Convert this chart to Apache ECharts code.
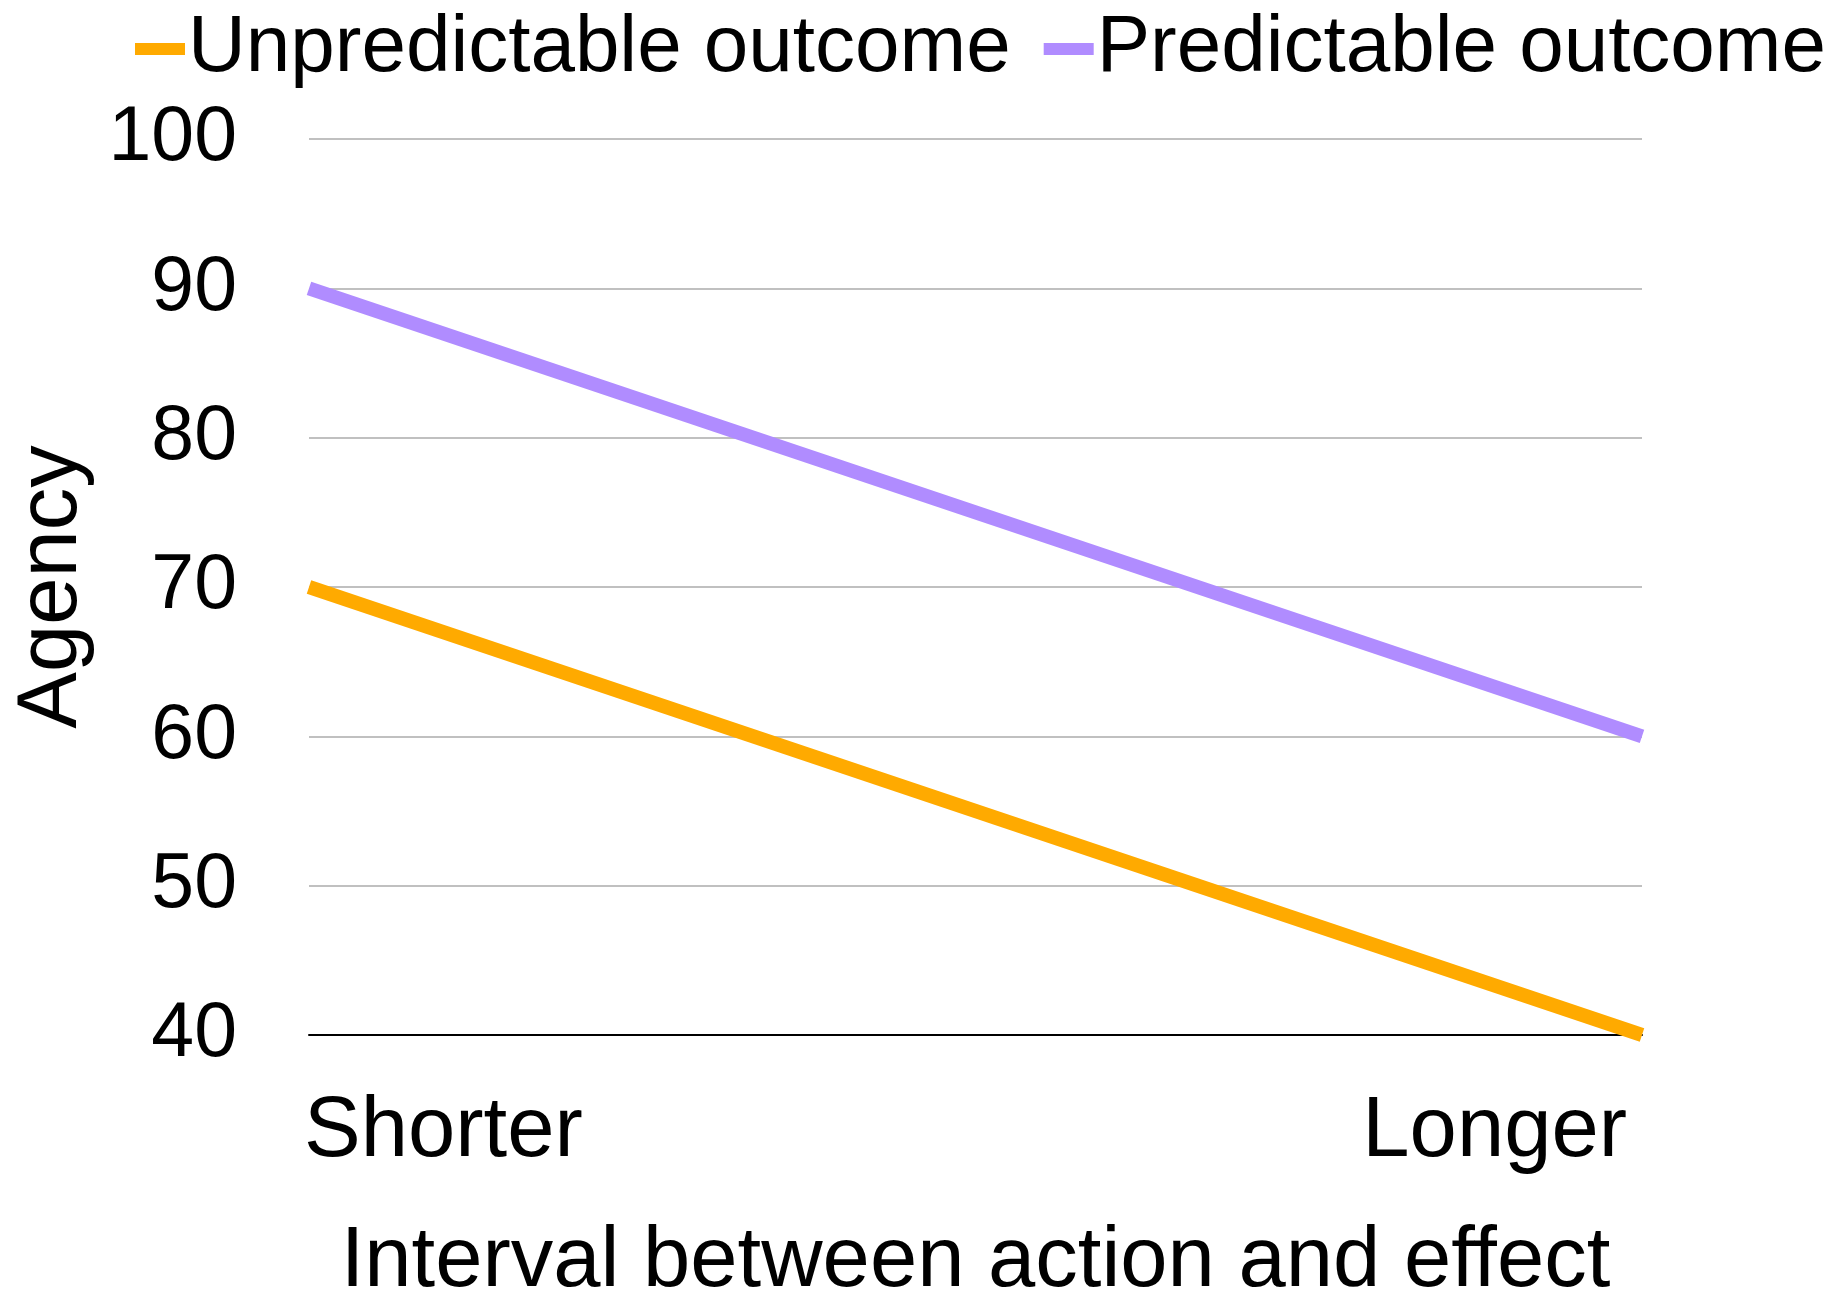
<!DOCTYPE html>
<html>
<head>
<meta charset="utf-8">
<style>
  html, body { margin: 0; padding: 0; background: #fff; }
  #chart { width: 1842px; height: 1300px; }
</style>
<script src="https://cdn.jsdelivr.net/npm/echarts@6/dist/echarts.min.js"></script>
</head>
<body>
<div id="chart"></div>
<script>
// data
const categories = ['Shorter', 'Longer']
const unpredictable = [70, 40]
const predictable = [90, 60]
const yTicks = { min: 40, max: 100, interval: 10 }

const font = 'Liberation Sans, Arial, sans-serif'

let option = {
  animation: false,
  backgroundColor: '#fff',
  legend: {
    data: ['Unpredictable outcome', 'Predictable outcome'],
    left: 130,
    top: 4,
    icon: 'rect',
    itemWidth: 50,
    itemHeight: 12,
    itemGap: 33,
    textStyle: { fontFamily: font, fontSize: 80, color: '#000', padding: [0, 0, 0, -2] }
  },
  grid: {
    left: 309,
    right: 200,
    top: 139,
    bottom: 265,
    outerBoundsMode: 'none'
  },
  xAxis: {
    type: 'category',
    data: categories,
    boundaryGap: false,
    name: 'Interval between action and effect',
    nameLocation: 'middle',
    nameGap: 185,
    nameTextStyle: { fontFamily: font, fontSize: 85, color: '#000' },
    axisLine: { lineStyle: { color: '#000', width: 2 } },
    axisTick: { show: false },
    axisLabel: {
      fontFamily: font,
      fontSize: 85,
      color: '#000',
      margin: 55,
      alignMinLabel: 'left',
      alignMaxLabel: 'right',
      padding: [0, 15, 0, -5]
    },
    splitLine: { show: false }
  },
  yAxis: {
    type: 'value',
    min: yTicks.min,
    max: yTicks.max,
    interval: yTicks.interval,
    name: 'Agency',
    nameLocation: 'middle',
    nameGap: 214,
    nameTextStyle: { fontFamily: font, fontSize: 85, color: '#000' },
    axisLine: { show: false },
    axisTick: { show: false },
    axisLabel: { fontFamily: font, fontSize: 77, color: '#000', margin: 72 },
    splitLine: { lineStyle: { color: '#c0c0c0', width: 2 } }
  },
  series: [
    {
      name: 'Unpredictable outcome',
      type: 'line',
      data: unpredictable,
      symbol: 'none',
      color: '#FFAA00',
      lineStyle: { width: 14, cap: 'butt' }
    },
    {
      name: 'Predictable outcome',
      type: 'line',
      data: predictable,
      symbol: 'none',
      color: '#B08CFF',
      lineStyle: { width: 14, cap: 'butt' }
    }
  ]
}

let myChart = echarts.init(document.getElementById('chart'))
myChart.setOption(option)
</script>
</body>
</html>
